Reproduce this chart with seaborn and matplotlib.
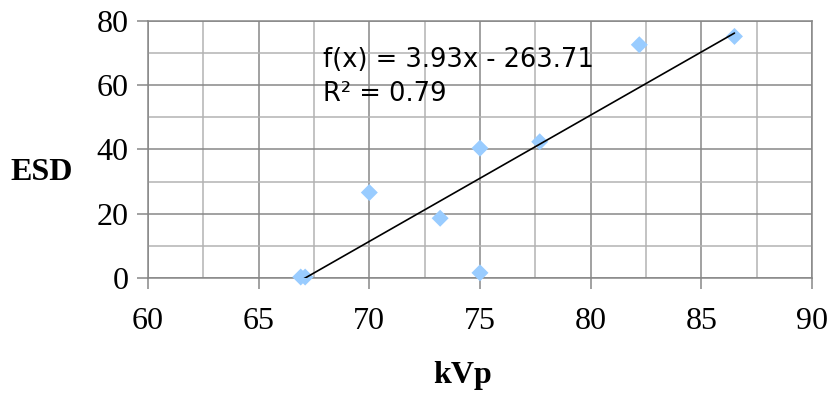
import numpy as np
import pandas as pd
import matplotlib
matplotlib.use("Agg")
import matplotlib.pyplot as plt
import seaborn as sns
from matplotlib.ticker import MultipleLocator

kvp = [66.9, 67.1, 70.0, 73.2, 75.0, 75.0, 77.7, 82.2, 86.5]
esd = [0.3, 0.3, 26.6, 18.6, 40.4, 1.6, 42.4, 72.6, 75.2]
slope = 3.93
intercept = -263.71
r2 = 0.79
x_ticks = [60, 65, 70, 75, 80, 85, 90]
y_ticks = [0, 20, 40, 60, 80]

df = pd.DataFrame({"kVp": kvp, "ESD": esd})

sns.set_style("white")
plt.rcParams["text.color"] = "black"
plt.rcParams["xtick.color"] = "black"
plt.rcParams["ytick.color"] = "black"

fig = plt.figure(figsize=(8.33, 3.96), dpi=100)
ax = fig.add_axes([0.1777, 0.298, 0.797, 0.649])

major_c = "#878787"
minor_c = "#b3b3b3"

ax.set_xlim(60, 90)
ax.set_ylim(0, 80)
ax.xaxis.set_major_locator(MultipleLocator(5))
ax.xaxis.set_minor_locator(MultipleLocator(2.5))
ax.yaxis.set_major_locator(MultipleLocator(20))
ax.yaxis.set_minor_locator(MultipleLocator(10))
ax.grid(which="minor", color=minor_c, linewidth=1.1, zorder=0)
ax.grid(which="major", color=major_c, linewidth=1.1, zorder=0)
ax.set_axisbelow(True)
for s in ax.spines.values():
    s.set_color(major_c)
    s.set_linewidth(1.1)

sns.scatterplot(data=df, x="kVp", y="ESD", marker="D", s=75, color="#99ccff",
                edgecolor="none", ax=ax, zorder=3, clip_on=False)

xl = np.array([min(kvp), max(kvp)])
sns.lineplot(x=xl, y=slope * xl + intercept, color="black", linewidth=1.2, ax=ax, zorder=4)

ax.text(67.9, 55.1, f"f(x) = {slope:.2f}x - {abs(intercept):.2f}\nR² = {r2:.2f}",
        fontsize=18.5, family="DejaVu Sans", va="baseline", ha="left",
        linespacing=1.4, zorder=5, color="black")

ax.set_xticks(x_ticks)
ax.set_yticks(y_ticks)
ax.set_xticklabels([str(v) for v in x_ticks])
ax.set_yticklabels([str(v) for v in y_ticks])
ax.tick_params(axis="both", which="major", direction="out", length=8, width=1.1,
               color=major_c, labelsize=23, labelcolor="black", bottom=True, left=True)
ax.tick_params(axis="x", which="major", pad=13)
ax.tick_params(axis="y", which="major", pad=6)
ax.tick_params(axis="both", which="minor", length=0)
for lab in ax.get_xticklabels() + ax.get_yticklabels():
    lab.set_family("Liberation Serif")

ax.set_xlabel("")
ax.set_ylabel("")
fig.text(0.05, 0.545, "ESD", fontsize=23, family="Liberation Serif", weight="bold",
         ha="center", va="baseline", color="black")
fig.text(0.555, 0.033, "kVp", fontsize=23, family="Liberation Serif", weight="bold",
         ha="center", va="baseline", color="black")

fig.savefig("out.png", dpi=100)
